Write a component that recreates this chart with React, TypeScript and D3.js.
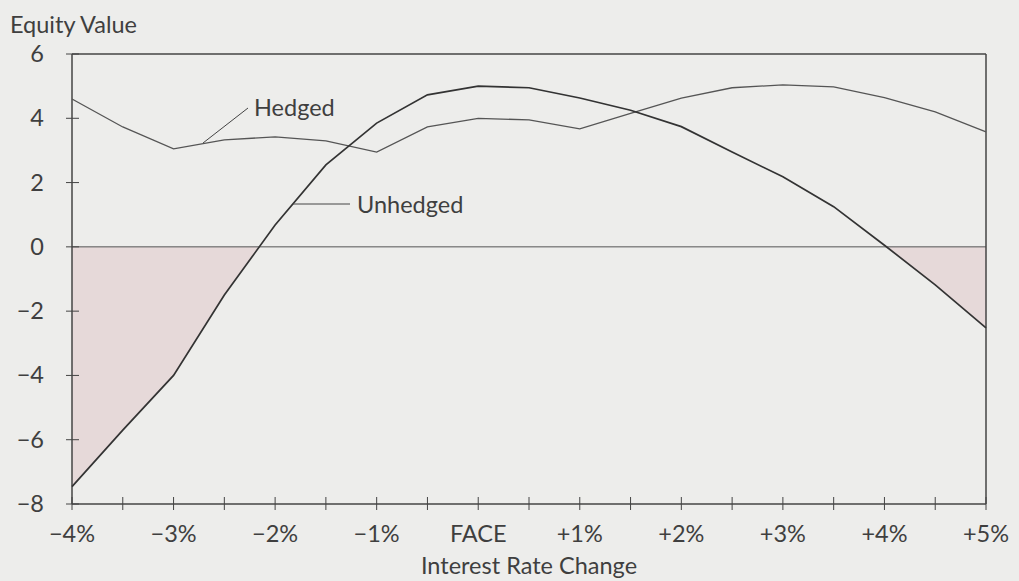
import React from "react";
import * as d3 from "d3";

const rates = [-4, -3.5, -3, -2.5, -2, -1.5, -1, -0.5, 0, 0.5, 1, 1.5, 2, 2.5, 3, 3.5, 4, 4.5, 5];
const hedged = [4.6, 3.73, 3.05, 3.33, 3.42, 3.3, 2.95, 3.73, 4.0, 3.95, 3.67, 4.15, 4.63, 4.95, 5.04, 4.98, 4.64, 4.2, 3.58];
const unhedged = [-7.46, -5.7, -4.0, -1.5, 0.68, 2.55, 3.85, 4.73, 5.0, 4.95, 4.63, 4.25, 3.74, 2.95, 2.18, 1.25, 0.05, -1.18, -2.52];
const xTickLabels = ["−4%", "−3%", "−2%", "−1%", "FACE", "+1%", "+2%", "+3%", "+4%", "+5%"];
const xLabelValues = [-4, -3, -2, -1, 0, 1, 2, 3, 4, 5];
const yTicks = [6, 4, 2, 0, -2, -4, -6, -8];

const W = 1019, H = 581;
const L = 72, R = 986, T = 54, B = 504;
const FONT = "Lato, 'Open Sans', sans-serif";
const TXT = "#3f3f3f";
const FS = 23.5;

// split series at zero crossings so the negative region fills cleanly
function withCrossings(data: [number, number][]): [number, number][] {
  const out: [number, number][] = [];
  for (let i = 0; i < data.length; i++) {
    const p = data[i];
    if (i > 0) {
      const q = data[i - 1];
      if ((q[1] < 0 && p[1] > 0) || (q[1] > 0 && p[1] < 0)) {
        const t = q[1] / (q[1] - p[1]);
        out.push([q[0] + t * (p[0] - q[0]), 0]);
      }
    }
    out.push(p);
  }
  return out;
}

export default function App() {
  const x = d3.scaleLinear().domain([-4, 5]).range([L, R]);
  const y = d3.scaleLinear().domain([-8, 6]).range([B, T]);
  const hData = rates.map((r, i) => [r, hedged[i]] as [number, number]);
  const uData = rates.map((r, i) => [r, unhedged[i]] as [number, number]);
  const line = d3.line<[number, number]>().x(d => x(d[0])).y(d => y(d[1]));
  const area = d3.area<[number, number]>().x(d => x(d[0])).y0(y(0)).y1(d => y(Math.min(0, d[1])));
  const minorTicks = d3.range(-4, 5.01, 0.5);

  return (
    <svg width={W} height={H} style={{ position: "fixed", left: 0, top: 0, background: "#ededeb" }}>
      <rect x={0} y={0} width={W} height={H} fill="#ededeb" />
      <path d={area(withCrossings(uData)) || ""} fill="#e6d9d9" />
      <line x1={L} x2={R} y1={y(0)} y2={y(0)} stroke="#555" strokeWidth={1} />
      <line x1={L} x2={R} y1={T} y2={T} stroke="#444" strokeWidth={1.5} />
      <line x1={R} x2={R} y1={T} y2={B} stroke="#444" strokeWidth={1.5} />
      <line x1={L} x2={L} y1={T} y2={B} stroke="#444" strokeWidth={1.5} />
      <line x1={L} x2={R} y1={B} y2={B} stroke="#444" strokeWidth={1.5} />
      {yTicks.map(t => (
        <g key={"y" + t}>
          <line x1={L - 6} x2={L + 7} y1={y(t)} y2={y(t)} stroke="#444" strokeWidth={1} />
          <text x={44} y={y(t) + 8} textAnchor="end" fontFamily={FONT} fontSize={FS} fill={TXT}>
            {t < 0 ? "−" + Math.abs(t) : String(t)}
          </text>
        </g>
      ))}
      {minorTicks.map(t => (
        <line key={"x" + t} x1={x(t)} x2={x(t)} y1={B - 7} y2={B + 6} stroke="#444" strokeWidth={1} />
      ))}
      {xLabelValues.map((v, i) => (
        <text key={"xl" + v} x={x(v)} y={542} textAnchor="middle" fontFamily={FONT} fontSize={FS} fill={TXT}>
          {xTickLabels[i]}
        </text>
      ))}
      <path d={line(hData) || ""} fill="none" stroke="#555" strokeWidth={1.3} />
      <path d={line(uData) || ""} fill="none" stroke="#333" strokeWidth={1.7} />
      <line x1={203} y1={143} x2={248} y2={108} stroke="#444" strokeWidth={1} />
      <text x={254} y={116} fontFamily={FONT} fontSize={FS} fill={TXT}>Hedged</text>
      <line x1={293} y1={204} x2={350} y2={204} stroke="#444" strokeWidth={1} />
      <text x={357} y={213} fontFamily={FONT} fontSize={FS} fill={TXT}>Unhedged</text>
      <text x={10} y={33} fontFamily={FONT} fontSize={FS} fill={TXT}>Equity Value</text>
      <text x={(L + R) / 2} y={574} textAnchor="middle" fontFamily={FONT} fontSize={FS} fill={TXT}>Interest Rate Change</text>
    </svg>
  );
}
